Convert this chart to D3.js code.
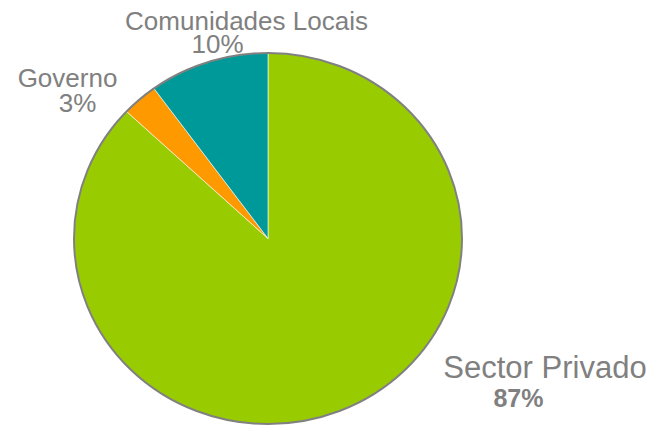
<!DOCTYPE html>
<html>
<head>
<meta charset="utf-8">
<script src="https://cdn.jsdelivr.net/npm/d3@7"></script>
<style>
    body { margin: 0; background: #fff; }
    svg { display: block; }
    text { font-family: "Liberation Sans", Arial, sans-serif; fill: #808080; }
</style>
</head>
<body>
<div id="chart"></div>
<script>
// -- DATA --
const categories = ["Sector Privado", "Governo", "Comunidades Locais"];
const values = [87, 3, 10];
const pctLabels = ["87%", "3%", "10%"];

// -- LAYOUT --
const width = 654, height = 426;
const cx = 268, cy = 238.5;
const rx = 194, ry = 185.5;
const colors = ["#99CC00", "#FF9900", "#009999"];

// label line positions relative to the page: [name line, percent line]
const labelLayout = [
    { name: [545, 378, 31], pct: [518.5, 407, 25], bold: true },
    { name: [67.5, 87, 26], pct: [77.5, 112, 26], bold: false },
    { name: [246.5, 30, 26], pct: [217.5, 53, 26], bold: false }
];

const svg = d3.select("#chart")
    .append("svg")
    .attr("width", width)
    .attr("height", height);

const pieData = d3.pie()
    .sort(null)
    .value(d => d)(values);

const arc = d3.arc().innerRadius(0).outerRadius(ry);

const g = svg.append("g")
    .attr("transform", `translate(${cx},${cy}) scale(${rx / ry},1)`);

g.selectAll("path.slice")
    .data(pieData)
    .enter()
    .append("path")
    .attr("class", "slice")
    .attr("d", arc)
    .attr("fill", (d, i) => colors[i])
    .attr("stroke", "#ffffff")
    .attr("stroke-width", 0.6)
    .attr("vector-effect", "non-scaling-stroke");

// outer border
g.append("path")
    .attr("d", d3.arc().innerRadius(0).outerRadius(ry).startAngle(0).endAngle(2 * Math.PI)())
    .attr("fill", "none")
    .attr("stroke", "#808080")
    .attr("stroke-width", 2)
    .attr("vector-effect", "non-scaling-stroke");

// -- LABELS --
const labels = svg.selectAll("g.label")
    .data(categories)
    .enter()
    .append("g")
    .attr("class", "label");

labels.append("text")
    .attr("x", (d, i) => labelLayout[i].name[0])
    .attr("y", (d, i) => labelLayout[i].name[1])
    .attr("font-size", (d, i) => labelLayout[i].name[2] + "px")
    .attr("text-anchor", "middle")
    .text(d => d);

labels.append("text")
    .attr("x", (d, i) => labelLayout[i].pct[0])
    .attr("y", (d, i) => labelLayout[i].pct[1])
    .attr("font-size", (d, i) => labelLayout[i].pct[2] + "px")
    .attr("font-weight", (d, i) => labelLayout[i].bold ? "bold" : "normal")
    .attr("text-anchor", "middle")
    .text((d, i) => pctLabels[i]);
</script>
</body>
</html>
